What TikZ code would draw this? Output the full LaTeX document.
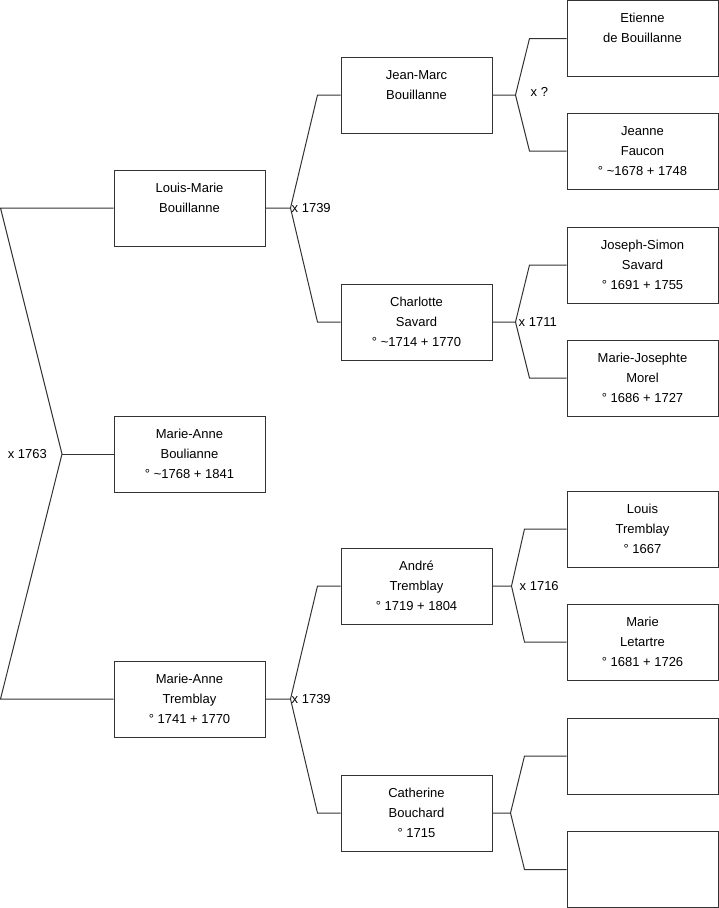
\documentclass[tikz,border=0pt]{standalone}
\usepackage{fontspec}
\setmainfont{Liberation Sans}
\usetikzlibrary{positioning}
\newcommand{\Who}[3]%
% first name, last name, dates
{\strut#1\\\strut#2\\\strut#3}
\newcommand{\Parents}[5]%
% child, father, mother, fork shift, bend shift
{   \coordinate (#1-fork) at ([xshift=#4]#1.east);
    \draw[link] (#1.east) -- (#1-fork)
        -- ([xshift=-#5]#2.west) -- (#2.west);
    \draw[link] (#1-fork)
        -- ([xshift=-#5]#3.west) -- (#3.west);
}
\begin{document}
\begin{tikzpicture}
[   x=1pt, y=-1pt,
    person/.style={draw=black!80, line width=1pt, rectangle, minimum width=151pt,
        minimum height=76pt, inner sep=0, align=center,
        font=\fontsize{13}{20}\selectfont},
    union/.style={font=\fontsize{13}{20}\selectfont, inner sep=0},
    link/.style={draw=black!80, line width=1pt}
]
    \useasboundingbox (0,0) rectangle (719,908);

    % generation 1
    \node[person] (lm) at (189.5,208) {\Who{Louis-Marie}{Bouillanne}{}};
    \node[person] (mab) at (189.5,454) {\Who{Marie-Anne}{Boulianne}{° \textasciitilde1768 + 1841}};
    \node[person] (mat) at (189.5,699) {\Who{Marie-Anne}{Tremblay}{° 1741 + 1770}};

    % generation 2
    \node[person] (jm) at (416.5,95) {\Who{Jean-Marc}{Bouillanne}{}};
    \node[person] (ch) at (416.5,322) {\Who{Charlotte}{Savard}{° \textasciitilde1714 + 1770}};
    \node[person] (an) at (416.5,586) {\Who{André}{Tremblay}{° 1719 + 1804}};
    \node[person] (cb) at (416.5,813) {\Who{Catherine}{Bouchard}{° 1715}};

    % generation 3
    \node[person] (eb) at (642.5,38.5) {\Who{Etienne}{de Bouillanne}{}};
    \node[person] (jf) at (642.5,151) {\Who{Jeanne}{Faucon}{° \textasciitilde1678 + 1748}};
    \node[person] (js) at (642.5,265) {\Who{Joseph-Simon}{Savard}{° 1691 + 1755}};
    \node[person] (mj) at (642.5,378) {\Who{Marie-Josephte}{Morel}{° 1686 + 1727}};
    \node[person] (lt) at (642.5,529) {\Who{Louis}{Tremblay}{° 1667}};
    \node[person] (ml) at (642.5,642) {\Who{Marie}{Letartre}{° 1681 + 1726}};
    \node[person] (q1) at (642.5,756) {};
    \node[person] (q2) at (642.5,869.5) {};

    % couples
    \Parents{lm}{jm}{ch}{25}{23}
    \Parents{mat}{an}{cb}{25}{23}
    \Parents{jm}{eb}{jf}{23}{37}
    \Parents{ch}{js}{mj}{23}{37}
    \Parents{an}{lt}{ml}{19}{42}
    \Parents{cb}{q1}{q2}{18}{42}

    \coordinate (mab-fork) at (62,454);
    \coordinate (lm-edge) at (0.5,208);
    \coordinate (mat-edge) at (0.5,699);
    \draw[link] (lm.west) -- (lm-edge) -- (mab-fork) -- (mat-edge) -- (mat.west);
    \draw[link] (mab-fork) -- (mab.west);

    % wedding years
    \node[union, left=15pt of mab-fork] (u-mab) {x 1763};
    \node[union, right=1pt of lm-fork] (u-lm) {x 1739};
    \node[union, right=1pt of mat-fork] (u-mat) {x 1739};
    \node[union, right=15pt of jm-fork, yshift=3pt] (u-jm) {x ?};
    \node[union, right=3pt of ch-fork] (u-ch) {x 1711};
    \node[union, right=8pt of an-fork] (u-an) {x 1716};
\end{tikzpicture}
\end{document}
